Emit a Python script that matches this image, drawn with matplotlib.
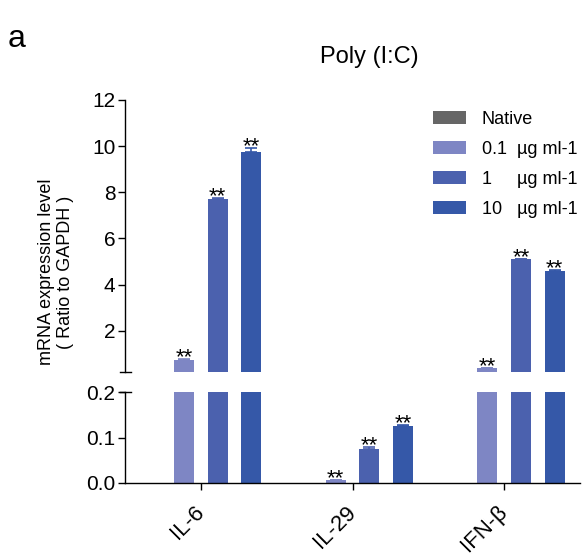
import numpy as np
import matplotlib
matplotlib.use('Agg')
import matplotlib.pyplot as plt
from matplotlib.patches import Patch

plt.rcParams['font.family'] = ['Liberation Sans', 'DejaVu Sans']

# data
genes = ['IL-6', 'IL-29', 'IFN-β']
doses = ['Native', '0.1  µg ml-1', '1     µg ml-1', '10   µg ml-1']
native = [0, 0, 0]
dose_01 = [0.74, 0.0066, 0.37]
dose_1 = [7.71, 0.076, 5.09]
dose_10 = [9.75, 0.126, 4.59]
err_native = [0, 0, 0]
err_01 = [0.02, 0.0005, 0.02]
err_1 = [0.03, 0.004, 0.03]
err_10 = [0.15, 0.002, 0.05]
stars = [None, '**', '**', '**']

values = [native, dose_01, dose_1, dose_10]
errors = [err_native, err_01, err_1, err_10]
colors = ['#666666', '#7E86C4', '#4B61AE', '#3558A8']

W, H = 582, 555
fig = plt.figure(figsize=(W / 100, H / 100), dpi=100)
left = 125 / W
width = 455 / W
ax_top = fig.add_axes([left, 1 - 372.3 / H, width, (372.3 - 100) / H])
ax_bot = fig.add_axes([left, 1 - 483 / H, width, (483 - 392.3) / H])

x = np.arange(len(genes))
offsets = [-0.333, -0.111, 0.111, 0.333]
bw = 0.132

for ax, lim in [(ax_top, (0.2, 12)), (ax_bot, (0, 0.2))]:
    for vals, errs, off, c, s in zip(values, errors, offsets, colors, stars):
        ax.bar(x + off, vals, width=bw, color=c, linewidth=0)
        if s is None:
            continue
        ax.errorbar(x + off, vals, yerr=[np.zeros(3), errs], fmt='none',
                    ecolor=c, elinewidth=1.2, capsize=4, capthick=1.2)
        for xi, v, e in zip(x + off, vals, errs):
            top = v + e
            if (lim[0] == 0 and top < 0.2) or (lim[0] > 0 and top >= 0.2):
                ax.annotate(s, (xi, top), xytext=(0, -3), textcoords='offset points',
                            ha='center', va='baseline', fontsize=16)
    ax.set_xlim(-0.5, 2.5)
    ax.set_ylim(*lim)
    ax.spines['top'].set_visible(False)
    ax.spines['right'].set_visible(False)
    ax.spines['left'].set_linewidth(1.0)
    ax.spines['bottom'].set_linewidth(1.0)
    ax.tick_params(axis='y', labelsize=15, length=5, width=1.0, pad=2)

ax_top.spines['bottom'].set_visible(False)
ax_top.set_xticks([])
ax_top.set_yticks([2, 4, 6, 8, 10, 12])

ax_bot.set_yticks([0.0, 0.1, 0.2])
ax_bot.set_yticklabels(['0.0', '0.1', '0.2'])
ax_bot.set_xticks(x)
ax_bot.set_xticklabels(genes, rotation=45, ha='right', va='center',
                       rotation_mode='anchor', fontsize=16)
ax_bot.tick_params(axis='x', length=5, width=1.0, pad=14)

# break marks
for ax, yy in [(ax_top, 0), (ax_bot, 1)]:
    ax.plot([-0.012, 0.013], [yy, yy], transform=ax.transAxes, color='black',
            lw=1.0, clip_on=False)

fig.text(56 / W, 1 - 272 / H, 'mRNA expression level\n( Ratio to GAPDH )',
         rotation=90, ha='center', va='center', fontsize=13, linespacing=1.15)
fig.text(369 / W, 1 - 63 / H, 'Poly (I:C)', ha='center', va='baseline', fontsize=17)
fig.text(8 / W, 1 - 47 / H, 'a', ha='left', va='baseline', fontsize=23)

handles = [Patch(facecolor=c, linewidth=0) for c in colors]
fig.legend(handles, doses, loc='upper left', bbox_to_anchor=(433 / W, 1 - 111 / H),
           bbox_transform=fig.transFigure, frameon=False, fontsize=13,
           borderpad=0, borderaxespad=0, handlelength=1.85, handleheight=0.75,
           handletextpad=0.85, labelspacing=0.72)

fig.savefig('out.png', dpi=100)
